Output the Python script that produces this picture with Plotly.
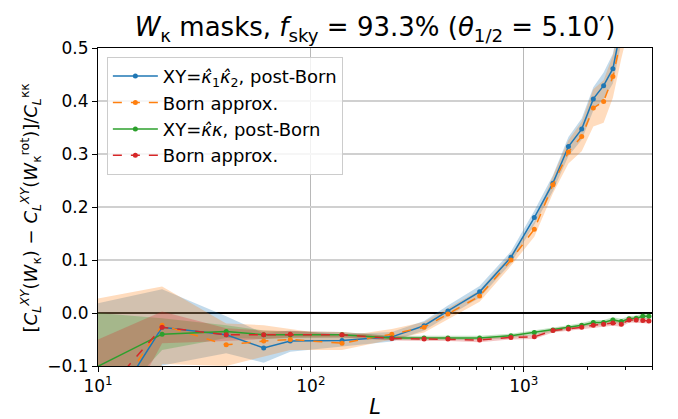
import plotly.graph_objects as go

# ---- data ----
L = [8, 20, 40, 60, 80, 140, 240, 340, 440, 620, 870, 1120, 1370, 1620, 1870,
     2120, 2370, 2620, 2870, 3120, 3370, 3620, 3870]

blue = [-0.28, -0.027, -0.041, -0.066, -0.053, -0.052, -0.045, -0.024, 0.004, 0.040,
        0.105, 0.180, 0.245, 0.314, 0.347, 0.404, 0.429, 0.461, 0.54, 0.60, 0.66, 0.72, 0.78]
blue_err = [0.29, 0.072, 0.035, 0.028, 0.02, 0.012, 0.009, 0.009, 0.01, 0.011,
            0.011, 0.013, 0.015, 0.018, 0.02, 0.022, 0.025, 0.028, 0.03, 0.03, 0.03, 0.03, 0.03]

orange = [-0.26, -0.023, -0.060, -0.053, -0.050, -0.057, -0.040, -0.027, -0.002, 0.032,
          0.100, 0.158, 0.242, 0.304, 0.333, 0.387, 0.399, 0.446, 0.52, 0.58, 0.64, 0.70, 0.76]
orange_err = [0.28, 0.073, 0.04, 0.03, 0.02, 0.013, 0.01, 0.01, 0.011, 0.011,
              0.011, 0.014, 0.016, 0.022, 0.028, 0.035, 0.04, 0.04, 0.04, 0.04, 0.04, 0.04, 0.04]

green = [-0.12, -0.040, -0.035, -0.041, -0.041, -0.041, -0.047, -0.047, -0.047, -0.047,
         -0.043, -0.037, -0.032, -0.027, -0.023, -0.018, -0.018, -0.013, -0.016, -0.011,
         -0.010, -0.006, -0.006]
green_err = [0.123, 0.03, 0.012, 0.008, 0.006, 0.005, 0.004, 0.004, 0.004, 0.004,
             0.004, 0.004, 0.004, 0.004, 0.004, 0.005, 0.005, 0.005, 0.005, 0.005,
             0.005, 0.005, 0.005]

red = [-0.21, -0.027, -0.041, -0.041, -0.040, -0.041, -0.048, -0.049, -0.049, -0.051,
       -0.046, -0.045, -0.033, -0.030, -0.027, -0.023, -0.021, -0.019, -0.021, -0.013,
       -0.013, -0.014, -0.015]
red_err = [0.143, 0.03, 0.012, 0.008, 0.006, 0.005, 0.004, 0.004, 0.004, 0.004,
           0.004, 0.004, 0.004, 0.004, 0.004, 0.005, 0.005, 0.005, 0.005, 0.005,
           0.005, 0.005, 0.005]

x_tickvals = [10, 100, 1000]
x_ticktext = ["10<sup>1</sup>", "10<sup>2</sup>", "10<sup>3</sup>"]
x_minor = [20, 30, 40, 50, 60, 70, 80, 90, 200, 300, 400, 500, 600, 700, 800, 900,
           2000, 3000, 4000]
y_tickvals = [-0.1, 0.0, 0.1, 0.2, 0.3, 0.4, 0.5]

series = [
    (blue, blue_err, "#1f77b4", "rgba(31,119,180,0.27)", "solid",
     "XY=<i>κ\u0302</i><sub>1</sub><i>κ\u0302</i><sub>2</sub>, post-Born"),
    (orange, orange_err, "#ff7f0e", "rgba(255,127,14,0.27)", "dash", "Born approx."),
    (green, green_err, "#2ca02c", "rgba(44,160,44,0.27)", "solid",
     "XY=<i>κ\u0302κ</i>, post-Born"),
    (red, red_err, "#d62728", "rgba(214,39,40,0.27)", "dash", "Born approx."),
]

FONT = "DejaVu Sans"
fig = go.Figure()

for vals, errs, col, fcol, dash, name in series:
    up = [v + e for v, e in zip(vals, errs)]
    lo = [v - e for v, e in zip(vals, errs)]
    fig.add_trace(go.Scatter(
        x=L + L[::-1], y=up + lo[::-1], fill="toself", fillcolor=fcol,
        line=dict(width=0), mode="lines", showlegend=False, hoverinfo="skip"))

for vals, errs, col, fcol, dash, name in series:
    fig.add_trace(go.Scatter(
        x=L, y=vals, mode="lines+markers", name=name,
        line=dict(color=col, width=1.5, dash=dash),
        marker=dict(color=col, size=5)))

ytitle = ("[<i>C</i><sub><i>L</i></sub><sup><i>XY</i></sup>(<i>W</i><sub>κ</sub>) − "
          "<i>C</i><sub><i>L</i></sub><sup><i>XY</i></sup>(<i>W</i><sub>κ</sub><sup>rot</sup>)]"
          "/<i>C</i><sub><i>L</i></sub><sup>κκ</sup>")
fig.add_annotation(text=ytitle, xref="paper", yref="paper", x=-0.122, y=0.5,
                   xanchor="center", yanchor="middle", textangle=-90, showarrow=False,
                   font=dict(family=FONT, size=18, color="black"))

fig.update_layout(
    width=678, height=419,
    margin=dict(l=98, r=26, t=48, b=53),
    paper_bgcolor="white", plot_bgcolor="white",
    font=dict(family=FONT, size=17, color="black"),
    title=dict(
        text="<i>W</i><sub>κ</sub> masks, <i>f</i><sub>sky</sub> = 93.3% (<i>θ</i><sub>1/2</sub> = 5.10′)",
        x=0.5, xref="paper", xanchor="center", y=0.935, yref="container", yanchor="middle",
        font=dict(family=FONT, size=26)),
    showlegend=True,
    legend=dict(x=0.016, y=0.972, xanchor="left", yanchor="top",
                bgcolor="rgba(255,255,255,0.8)", bordercolor="#cccccc", borderwidth=1,
                itemwidth=45,
                font=dict(family=FONT, size=18)),
    xaxis=dict(
        type="log", range=[1, 3.602], tickvals=x_tickvals, ticktext=x_ticktext,
        ticks="outside", ticklen=5, tickcolor="black",
        showgrid=True, gridcolor="#b8b8b8", gridwidth=1,
        showline=True, linecolor="black", linewidth=1, mirror=True,
        minor=dict(tickvals=x_minor, ticks="outside", ticklen=3, tickcolor="black", showgrid=False),
        title=dict(text="<i>L</i>", font=dict(size=21)),
        automargin=False, zeroline=False),
    yaxis=dict(
        range=[-0.1, 0.5], tickvals=y_tickvals, tickformat=".1f",
        ticks="outside", ticklen=5, tickcolor="black",
        showgrid=True, gridcolor="#d0d0d0", gridwidth=1.5,
        showline=True, linecolor="black", linewidth=1, mirror=True,
        zeroline=True, zerolinecolor="black", zerolinewidth=2,
        automargin=False),
)

fig.write_html("out.html")
